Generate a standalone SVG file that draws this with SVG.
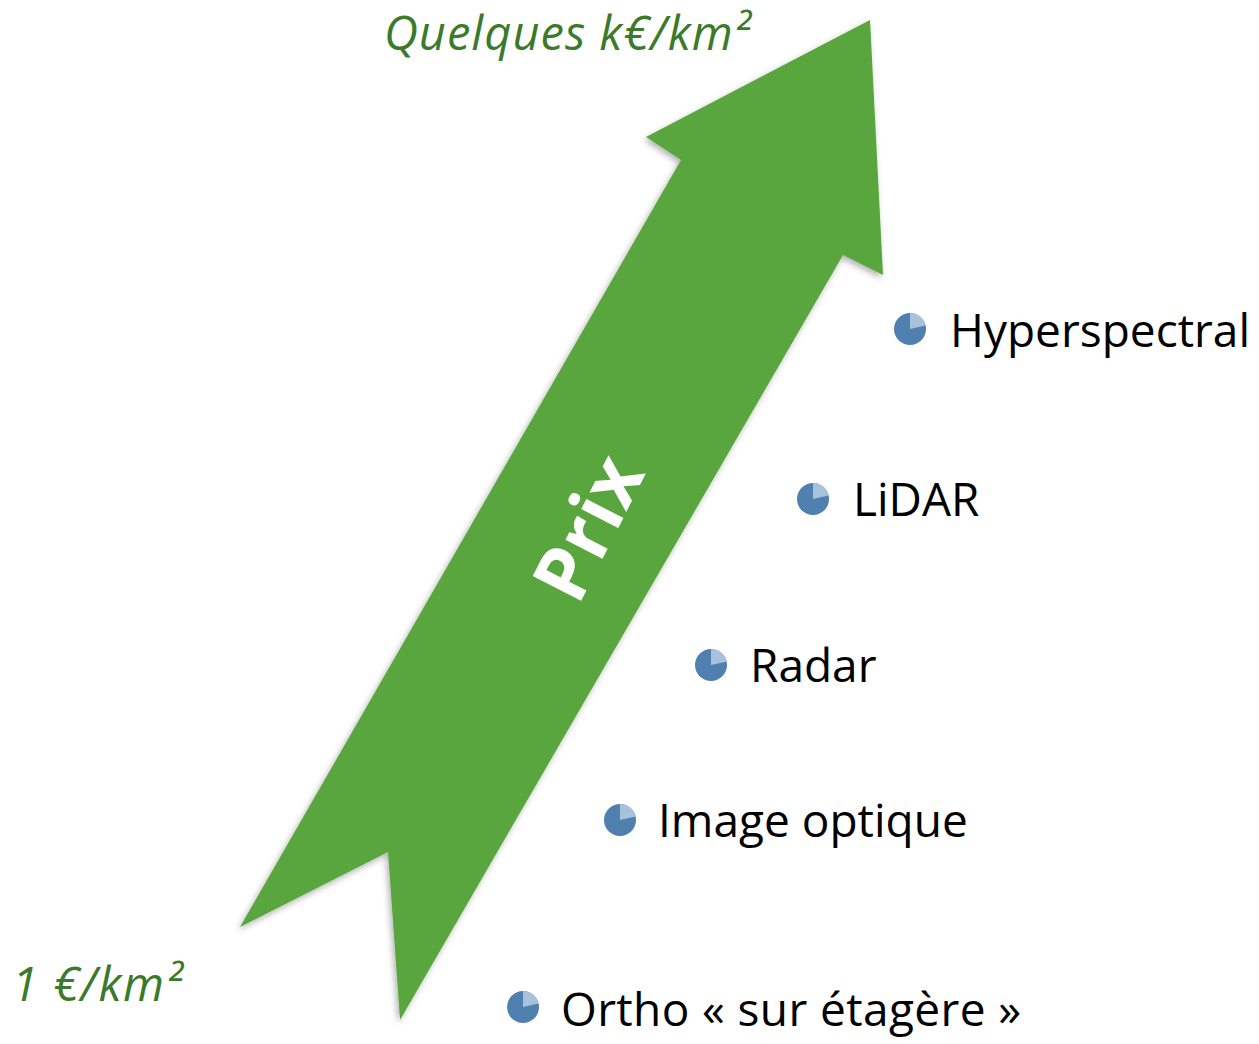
<svg xmlns="http://www.w3.org/2000/svg" width="1259" height="1044" viewBox="0 0 1259 1044">
<style>
.lbl{font-family:"Open Sans","Noto Sans","Liberation Sans",sans-serif;font-size:46px;fill:#000}
.price{font-family:"Open Sans","Noto Sans","Liberation Sans",sans-serif;font-size:47px;font-style:italic;fill:#3b7a2a}
.prix{font-family:"Open Sans","Noto Sans","Liberation Sans",sans-serif;font-size:76px;font-weight:bold;fill:#fff}
.dark{fill:#4f80b0}
.light{fill:#a9c2dc}
</style>
<defs>
<filter id="sh" x="-10%" y="-10%" width="120%" height="120%">
<feDropShadow dx="-2" dy="3" stdDeviation="3" flood-color="#000" flood-opacity="0.3"/>
</filter>
<g id="bullet">
<circle cx="0" cy="0" r="16" class="dark"/>
<path d="M0,0 L0,-16 A16,16 0 0 1 15.5,-3.5 Z" class="light"/>
</g>
</defs>
<g id="arrow">
<polygon points="870,20 883,275 843,255 400,1020 388,852 240,927 681,160 646,137" fill="#58a63c" filter="url(#sh)"/>
<text class="prix" transform="translate(612,540) rotate(-63)" text-anchor="middle" textLength="150" lengthAdjust="spacing">Prix</text>
</g>
<g id="price-high"><text class="price" x="384" y="50" textLength="366">Quelques k€/km²</text></g>
<g id="price-low"><text class="price" x="12" y="1001" textLength="170">1 €/km²</text></g>
<g id="hyperspectral"><use href="#bullet" x="910" y="329"/><text class="lbl" x="950" y="347">Hyperspectral</text></g>
<g id="lidar"><use href="#bullet" x="813" y="499"/><text class="lbl" x="853" y="516">LiDAR</text></g>
<g id="radar"><use href="#bullet" x="711" y="665"/><text class="lbl" x="750" y="682">Radar</text></g>
<g id="image-optique"><use href="#bullet" x="620" y="820"/><text class="lbl" x="658" y="837">Image optique</text></g>
<g id="ortho"><use href="#bullet" x="523" y="1007"/><text class="lbl" x="561" y="1026" textLength="460">Ortho « sur étagère »</text></g>
<g id="connectors"/>
</svg>
